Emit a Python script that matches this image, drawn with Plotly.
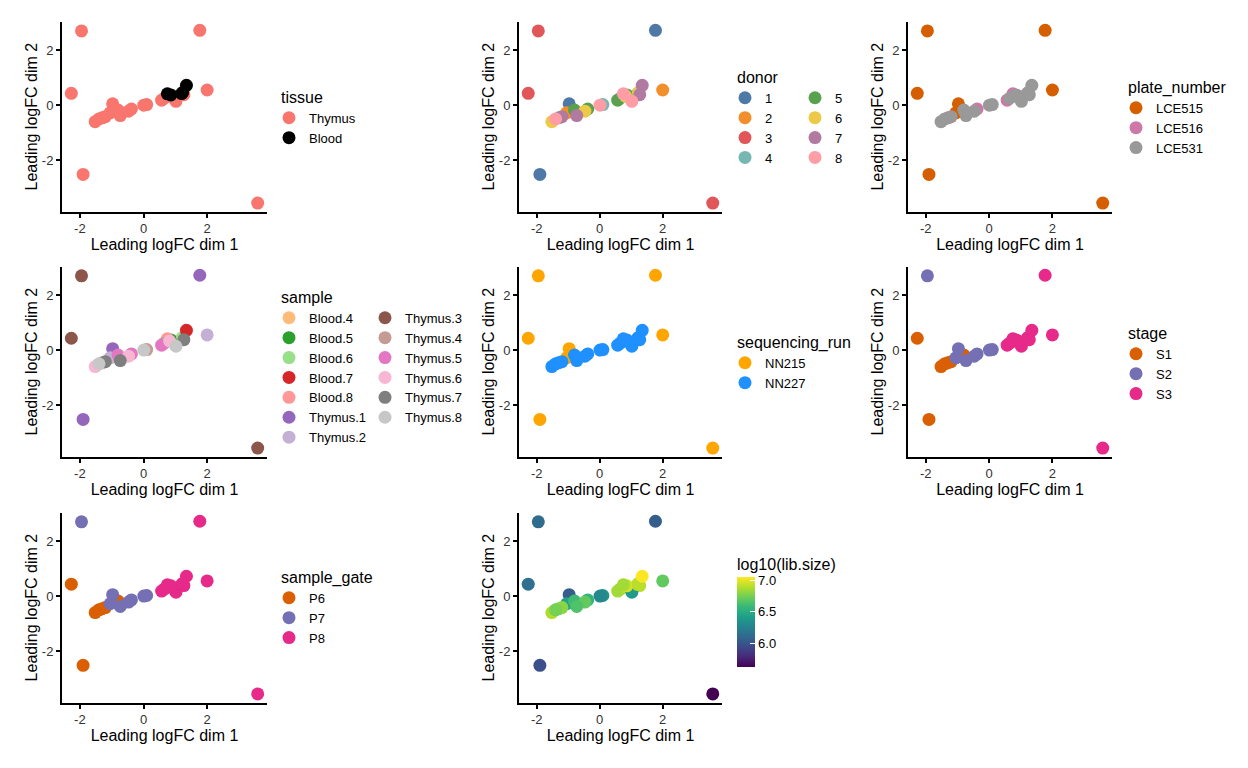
import plotly.graph_objects as go

# ---------------- data (one entry per library) ----------------
sample_id = ["Thymus.1", "Thymus.1", "Thymus.1",
             "Thymus.2", "Thymus.2",
             "Thymus.3", "Thymus.3", "Thymus.3",
             "Thymus.4", "Thymus.4", "Thymus.4",
             "Thymus.5", "Thymus.5", "Thymus.5",
             "Thymus.6", "Thymus.6", "Thymus.6",
             "Thymus.7", "Thymus.7", "Thymus.7",
             "Thymus.8", "Thymus.8", "Thymus.8",
             "Blood.4", "Blood.5", "Blood.6", "Blood.7", "Blood.8"]
dim1 = [-1.90, -0.97, 1.77,
        -1.05, 2.00,
        -2.27, -1.95, 3.59,
        -1.30, 0.10, 0.65,
        -0.80, -0.38, 0.57,
        -1.52, -0.47, 0.82,
        -1.20, -0.73, 1.27,
        -1.40, 0.01, 1.02,
        1.20, 0.86, 1.23, 1.35, 0.75]
dim2 = [-2.52, 0.05, 2.72,
        -0.28, 0.55,
        0.43, 2.70, -3.56,
        -0.46, 0.02, 0.25,
        -0.18, -0.14, 0.18,
        -0.60, -0.22, 0.33,
        -0.42, -0.38, 0.38,
        -0.50, 0.00, 0.14,
        0.42, 0.37, 0.46, 0.72, 0.41]
tissue = ["Thymus"] * 23 + ["Blood"] * 5
donor = ["1", "1", "1", "2", "2", "3", "3", "3", "4", "4", "4", "5", "5", "5",
         "6", "6", "6", "7", "7", "7", "8", "8", "8", "4", "5", "6", "7", "8"]
stage = ["S1", "S2", "S3", "S2", "S3", "S1", "S2", "S3", "S1", "S2", "S3",
         "S1", "S2", "S3", "S1", "S2", "S3", "S1", "S2", "S3", "S1", "S2", "S3",
         "S3", "S3", "S3", "S3", "S3"]
sample_gate = ["P6", "P7", "P8", "P7", "P8", "P6", "P7", "P8", "P6", "P7", "P8",
               "P6", "P7", "P8", "P6", "P7", "P8", "P6", "P7", "P8", "P6", "P7", "P8",
               "P8", "P8", "P8", "P8", "P8"]
plate_number = ["LCE515"] * 8 + ["LCE516", "LCE531", "LCE531",
                "LCE531", "LCE516", "LCE516", "LCE531", "LCE531", "LCE531",
                "LCE531", "LCE531", "LCE531", "LCE531", "LCE531", "LCE531",
                "LCE531", "LCE531", "LCE531", "LCE531", "LCE516"]
sequencing_run = ["NN215"] * 8 + ["NN227"] * 20
log_lib_size = [5.98, 6.05, 6.05, 6.45, 6.70, 6.15, 6.13, 5.63,
                6.75, 6.35, 6.80, 6.60, 6.55, 6.85, 6.88, 6.70, 6.90,
                6.80, 6.65, 6.90, 6.75, 6.30, 6.40,
                6.90, 6.95, 6.90, 7.05, 6.85]

tissue_levels = ["Thymus", "Blood"]
tissue_colors = ["#F8766D", "#000000"]
donor_levels = ["1", "2", "3", "4", "5", "6", "7", "8"]
donor_colors = ["#4E79A7", "#F28E2B", "#E15759", "#76B7B2",
                "#59A14F", "#EDC948", "#B07AA1", "#FF9DA7"]
plate_levels = ["LCE515", "LCE516", "LCE531"]
plate_colors = ["#D55E00", "#CC79A7", "#999999"]
sample_levels = ["Blood.4", "Blood.5", "Blood.6", "Blood.7", "Blood.8",
                 "Thymus.1", "Thymus.2", "Thymus.3", "Thymus.4", "Thymus.5",
                 "Thymus.6", "Thymus.7", "Thymus.8"]
sample_colors = ["#FFBB78", "#2CA02C", "#98DF8A", "#D62728", "#FF9896",
                 "#9467BD", "#C5B0D5", "#8C564B", "#C49C94", "#E377C2",
                 "#F7B6D2", "#7F7F7F", "#C7C7C7"]
run_levels = ["NN215", "NN227"]
run_colors = ["#FFA500", "#1E90FF"]
stage_levels = ["S1", "S2", "S3"]
stage_colors = ["#D95F02", "#7570B3", "#E7298A"]
gate_levels = ["P6", "P7", "P8"]
gate_colors = ["#D95F02", "#7570B3", "#E7298A"]
tick_vals = [-2, 0, 2]
tick_text = ["-2", "0", "2"]
cbar_ticks = [6.0, 6.5, 7.0]

# ---------------- layout helpers ----------------
# the page body has an 8px margin, so the figure is made 16px smaller
OFF = 8
W, H = 1248 - 2 * OFF, 768 - 2 * OFF
FONT = "Liberation Sans, Arial, sans-serif"
MS = 13

col_x = [(62, 267), (519, 722), (908, 1112)]
row_y = [(21.7, 211.7), (266.6, 456.7), (512.6, 702.6)]

def px_x(p):
    return (p - OFF) / W

def px_y(p):
    return 1 - (p - OFF) / H

xr0, xr1 = min(dim1), max(dim1)
yr0, yr1 = min(dim2), max(dim2)
xpad = 0.05 * (xr1 - xr0)
ypad = 0.05 * (yr1 - yr0)
x_range = [xr0 - xpad, xr1 + xpad]
y_range = [yr0 - ypad, yr1 + ypad]

fig = go.Figure()

panels = [(0, 0), (0, 1), (0, 2), (1, 0), (1, 1), (1, 2), (2, 0), (2, 1)]
layout_axes = {}
for i, (r, c) in enumerate(panels):
    n = "" if i == 0 else str(i + 1)
    ax_common = dict(showline=True, linecolor="black", linewidth=2,
                     ticks="outside", ticklen=4, tickwidth=1.5, tickcolor="black",
                     showgrid=False, zeroline=False,
                     tickmode="array", tickvals=tick_vals, ticktext=tick_text,
                     tickfont=dict(size=13, color="#333333", family=FONT),
                     fixedrange=True, automargin=False)
    layout_axes["xaxis" + n] = dict(
        domain=[px_x(col_x[c][0]), px_x(col_x[c][1])], anchor="y" + n,
        range=x_range,
        title=dict(text="Leading logFC dim 1", font=dict(size=16, color="black", family=FONT), standoff=3),
        **ax_common)
    layout_axes["yaxis" + n] = dict(
        domain=[px_y(row_y[r][1]), px_y(row_y[r][0])], anchor="x" + n,
        range=y_range,
        title=dict(text="Leading logFC dim 2", font=dict(size=16, color="black", family=FONT), standoff=0),
        **ax_common)


def add_cat(panel, values, levels, colors, legend_for_level):
    n = "" if panel == 0 else str(panel + 1)
    for lev, col in zip(levels, colors):
        xs = [dim1[k] for k in range(len(dim1)) if values[k] == lev]
        ys = [dim2[k] for k in range(len(dim2)) if values[k] == lev]
        fig.add_trace(go.Scatter(
            x=xs, y=ys, mode="markers", name=lev,
            marker=dict(color=col, size=MS, line=dict(width=0)),
            xaxis="x" + n, yaxis="y" + n,
            legend=legend_for_level(lev), showlegend=True))


add_cat(0, tissue, tissue_levels, tissue_colors, lambda l: "legend")
add_cat(1, donor, donor_levels, donor_colors,
        lambda l: "legend2" if l in ["1", "2", "3", "4"] else "legend3")
add_cat(2, plate_number, plate_levels, plate_colors, lambda l: "legend4")
add_cat(3, sample_id, sample_levels, sample_colors,
        lambda l: "legend5" if sample_levels.index(l) < 7 else "legend6")
add_cat(4, sequencing_run, run_levels, run_colors, lambda l: "legend7")
add_cat(5, stage, stage_levels, stage_colors, lambda l: "legend8")
add_cat(6, sample_gate, gate_levels, gate_colors, lambda l: "legend9")

# continuous panel
fig.add_trace(go.Scatter(
    x=dim1, y=dim2, mode="markers", xaxis="x8", yaxis="y8", showlegend=False,
    marker=dict(size=MS, color=log_lib_size, colorscale="Viridis", line=dict(width=0),
                showscale=True,
                colorbar=dict(
                    title=dict(text="log10(lib.size)", side="top",
                               font=dict(size=16, color="black", family=FONT)),
                    x=px_x(737), xanchor="left", y=px_y(555), yanchor="top",
                    lenmode="pixels", len=112, thickness=18, thicknessmode="pixels",
                    outlinewidth=0, ticks="inside", ticklen=5, tickcolor="white",
                    tickvals=cbar_ticks, ticktext=["%.1f" % v for v in cbar_ticks],
                    tickfont=dict(size=13, color="black", family=FONT),
                    xpad=0, ypad=0))))


def leg(x, y, title):
    return dict(x=px_x(x), y=px_y(y), xanchor="left", yanchor="top",
                title=dict(text=title, font=dict(size=16, color="black", family=FONT)),
                font=dict(size=13, color="black", family=FONT),
                bgcolor="rgba(0,0,0,0)", borderwidth=0, indentation=-10,
                itemclick=False, itemdoubleclick=False)


fig.update_layout(
    width=W, height=H, margin=dict(l=0, r=0, t=0, b=0, autoexpand=False),
    paper_bgcolor="white", plot_bgcolor="white",
    font=dict(family=FONT, color="black"),
    legend=leg(279, 82, "tissue"),
    legend2=leg(735, 62, "donor"),
    legend3=leg(805, 62, "\u00a0"),
    legend4=leg(1126, 72, "plate_number"),
    legend5=leg(279, 282, "sample"),
    legend6=leg(375, 282, "\u00a0"),
    legend7=leg(735, 327, "sequencing_run"),
    legend8=leg(1126, 318, "stage"),
    legend9=leg(279, 562, "sample_gate"),
    **layout_axes)

fig.write_html("out.html")
